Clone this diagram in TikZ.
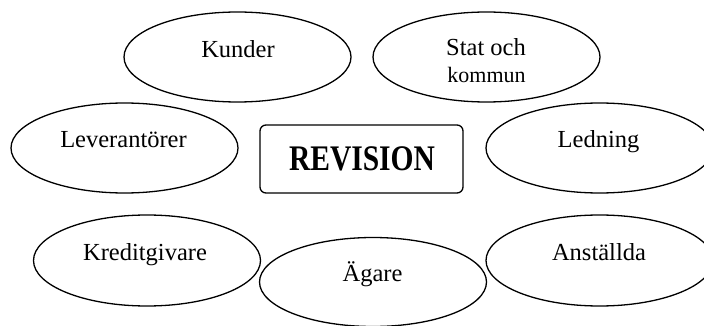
\documentclass[tikz,border=0pt]{standalone}
\usepackage{fontspec}
\setmainfont{Liberation Serif}
\usetikzlibrary{shapes.geometric}
\tikzset{
  ell/.style={draw, line width=1.3pt, ellipse, inner sep=0pt, minimum width=227pt, minimum height=90pt},
  lbl/.style={inner sep=0pt, anchor=base, font=\fontsize{24.5}{29}\selectfont},
  box/.style={draw, line width=1.3pt, rounded corners=6pt, inner sep=0pt, minimum width=203pt, minimum height=68pt}
}
\begin{document}
\begin{tikzpicture}[x=1pt,y=-1pt]
\useasboundingbox (0,0) rectangle (704,326);
\clip (0,0) rectangle (704,326);
\node[ell] (kunder) at (237.5,57) {};
\node[lbl] (tkunder) at (238,57.7) {Kunder};
\node[ell] (stat) at (486.5,57) {};
\node[lbl] (tstat) at (486,56) {Stat och};
\node[lbl, font=\fontsize{22}{26}\selectfont] (tkommun) at (486.5,82.7) {kommun};
\node[ell] (lev) at (124.5,148) {};
\node[lbl] (tlev) at (123.5,147) {Leverantörer};
\node[ell] (led) at (599.5,148) {};
\node[lbl] (tled) at (598.5,147) {Ledning};
\node[box] (rev) at (361.5,159) {};
\node[lbl, font=\fontsize{36}{40}\selectfont\bfseries] (trev) at (362,170) {\scalebox{0.82}[1]{REVISION}};
\node[ell, minimum height=91pt] (kred) at (147,260.5) {};
\node[lbl] (tkred) at (145,260) {Kreditgivare};
\node[ell, minimum height=89pt] (agare) at (373,282) {};
\node[lbl] (tagare) at (372.5,281.7) {Ägare};
\node[ell, minimum height=91pt] (anst) at (599.5,260.5) {};
\node[lbl] (tanst) at (599,260) {Anställda};
\end{tikzpicture}
\end{document}
